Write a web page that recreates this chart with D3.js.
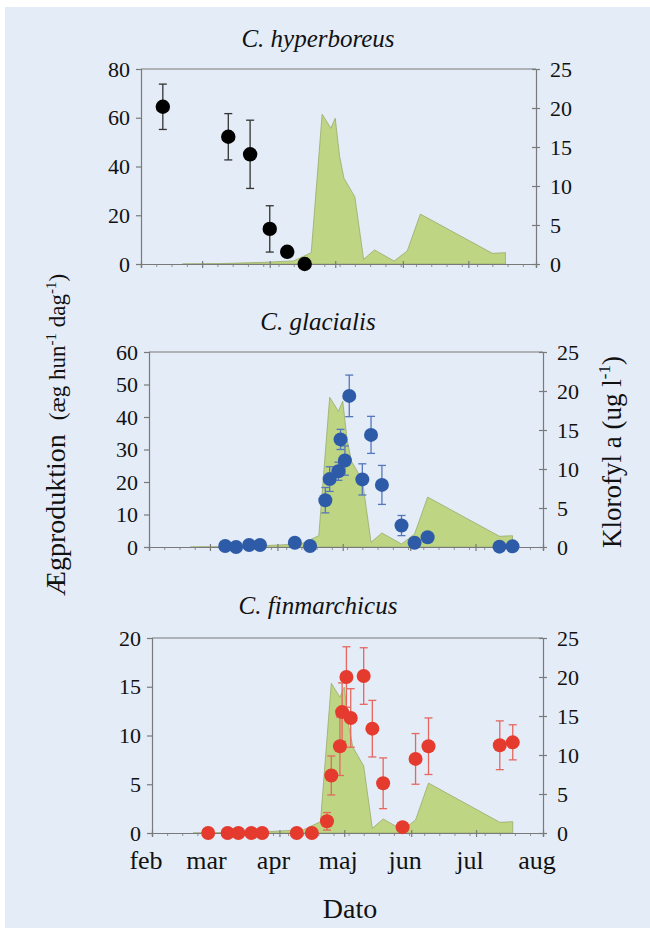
<!DOCTYPE html>
<html>
<head>
<meta charset="utf-8">
<script src="https://cdn.jsdelivr.net/npm/d3@7"></script>
<style>
  body { margin: 0; background: #fff; }
  text { font-family: "Liberation Serif", "Times New Roman", serif; fill: #111; }
</style>
</head>
<body>
<div id="chart"></div>
<script>
// month labels for the date axis
const monthLabels = ['feb', 'mar', 'apr', 'maj', 'jun', 'jul', 'aug'];

// chlorophyll a (ug l-1), same curve behind all three panels
const chlDates = ['2009-02-20', '2009-03-09', '2009-03-28', '2009-04-12', '2009-04-20', '2009-04-25',
    '2009-04-29', '2009-05-01', '2009-05-03', '2009-05-05', '2009-05-10', '2009-05-14', '2009-05-19',
    '2009-05-28', '2009-06-03', '2009-06-09', '2009-07-12', '2009-07-18'];
const chlValues = [0, 0.05, 0.2, 0.4, 1.45, 19.2, 17.4, 18.7, 13.8, 11.0, 8.6, 0.6, 1.8, 0.38, 1.67, 6.4, 1.37, 1.45];

// C. hyperboreus egg production
const hypDates = ['2009-02-11', '2009-03-13', '2009-03-23', '2009-04-01', '2009-04-09', '2009-04-17'];
const hypEggs = [64.5, 52.2, 45, 14.4, 5.0, 0];
const hypErr = [9.3, 9.5, 14, 9.5, 0, 0];

// C. glacialis egg production
const glaDates = ['2009-03-08', '2009-03-13', '2009-03-19', '2009-03-24', '2009-04-09', '2009-04-16',
    '2009-04-23', '2009-04-25', '2009-04-29', '2009-04-30', '2009-05-02', '2009-05-04', '2009-05-10',
    '2009-05-14', '2009-05-19', '2009-05-28', '2009-06-03', '2009-06-09', '2009-07-12', '2009-07-18'];
const glaEggs = [0.3, 0, 0.6, 0.6, 1.3, 0.3, 14.4, 20.9, 23.3, 33.1, 26.6, 46.5, 20.8, 34.5, 19.1, 6.6, 1.3, 3.0, 0.1, 0.2];
const glaErr = [0, 0, 0, 0, 0, 0, 3.9, 3.8, 2.8, 3.1, 4.5, 6.4, 4.8, 5.7, 6.0, 3.1, 0, 0, 0, 0];

// C. finmarchicus egg production
const finDates = ['2009-02-27', '2009-03-08', '2009-03-13', '2009-03-19', '2009-03-24', '2009-04-09', '2009-04-16',
    '2009-04-23', '2009-04-25', '2009-04-29', '2009-04-30', '2009-05-02', '2009-05-04', '2009-05-10',
    '2009-05-14', '2009-05-19', '2009-05-28', '2009-06-03', '2009-06-09', '2009-07-12', '2009-07-18'];
const finEggs = [0, 0, 0, 0, 0, 0, 0, 1.2, 5.9, 8.9, 12.4, 16.0, 11.8, 16.1, 10.7, 5.1, 0.6, 7.6, 8.9, 9.0, 9.3];
const finErr = [0, 0, 0, 0, 0, 0, 0, 0.9, 2.0, 3.0, 3.0, 3.1, 3.0, 2.9, 2.9, 2.6, 0, 2.6, 2.9, 2.5, 1.8];

const parseDate = d3.timeParse('%Y-%m-%d');
const startDate = parseDate('2009-02-01'),
    endDate = parseDate('2009-08-01');

const width = 650,
    height = 928;
const serif = '"Liberation Serif", "Times New Roman", serif';

const svg = d3.select('#chart').append('svg')
    .attr('width', width)
    .attr('height', height)
    .attr('font-family', serif);

// light blue box
svg.append('rect')
    .attr('x', 5)
    .attr('y', 7)
    .attr('width', width - 5)
    .attr('height', height - 7)
    .attr('fill', '#e4ecf7');

const panels = [
    {title: 'C. hyperboreus', dates: hypDates, eggs: hypEggs, errs: hypErr, yMax: 80, yStep: 20,
        color: '#000', errColor: '#333', r: 7.2, left: 141, right: 536, top: 69, bottom: 264, titleY: 47},
    {title: 'C. glacialis', dates: glaDates, eggs: glaEggs, errs: glaErr, yMax: 60, yStep: 10,
        color: '#2e5ba8', errColor: '#5577bb', r: 7, left: 149, right: 543, top: 352, bottom: 547, titleY: 330},
    {title: 'C. finmarchicus', dates: finDates, eggs: finEggs, errs: finErr, yMax: 20, yStep: 5,
        color: '#e53b2e', errColor: '#e5675f', r: 7, left: 152, right: 543, top: 638, bottom: 833, titleY: 614,
        months: true}
];

function styleAxis(g) {
    g.attr('font-family', serif);
    g.selectAll('path, line').attr('stroke', '#7a7a7a').attr('stroke-width', 1.2);
    g.selectAll('text').attr('font-size', '22px').attr('fill', '#111');
}

function drawPanel(p) {
    const x = d3.scaleTime().domain([startDate, endDate]).range([p.left, p.right]);
    const yEgg = d3.scaleLinear().domain([0, p.yMax]).range([p.bottom, p.top]);
    const yChl = d3.scaleLinear().domain([0, 25]).range([p.bottom, p.top]);

    // chlorophyll area
    const chl = chlDates.map((d, i) => ({date: parseDate(d), v: chlValues[i]}));
    svg.append('path')
        .datum(chl)
        .attr('fill', '#bed583')
        .attr('stroke', '#9aab6c')
        .attr('stroke-width', 0.8)
        .attr('d', d3.area()
            .x(d => x(d.date))
            .y0(yChl(0))
            .y1(d => yChl(d.v)));

    // top border
    svg.append('line')
        .attr('x1', p.left).attr('x2', p.right)
        .attr('y1', p.top).attr('y2', p.top)
        .attr('stroke', '#7a7a7a').attr('stroke-width', 1.2);

    // left axis
    svg.append('g')
        .attr('transform', 'translate(' + p.left + ',0)')
        .call(d3.axisLeft(yEgg)
            .tickValues(d3.range(0, p.yMax + 1, p.yStep))
            .tickSizeOuter(0)
            .tickSize(5)
            .tickPadding(6))
        .call(styleAxis);

    // right axis
    const right = svg.append('g')
        .attr('transform', 'translate(' + p.right + ',0)')
        .call(d3.axisRight(yChl)
            .tickValues([0, 5, 10, 15, 20, 25])
            .tickSizeOuter(0)
            .tickSize(4)
            .tickPadding(10))
        .call(styleAxis);
    right.selectAll('.tick line').attr('x1', -4);

    // minor weekly ticks
    svg.append('g')
        .attr('transform', 'translate(0,' + p.bottom + ')')
        .call(d3.axisBottom(x)
            .tickValues(d3.timeDay.range(startDate, endDate, 7))
            .tickSizeOuter(0)
            .tickSize(3)
            .tickFormat(''))
        .call(styleAxis)
        .selectAll('line').attr('stroke-width', 0.8);

    // month axis
    const bottom = svg.append('g')
        .attr('transform', 'translate(0,' + p.bottom + ')')
        .call(d3.axisBottom(x)
            .tickValues(d3.timeMonth.range(startDate, d3.timeDay.offset(endDate, 1)))
            .tickSizeOuter(0)
            .tickSize(4)
            .tickPadding(14)
            .tickFormat((d, i) => p.months ? monthLabels[i] : ''))
        .call(styleAxis);
    bottom.selectAll('.tick line').attr('y1', -3);
    bottom.selectAll('text').attr('font-size', '26px').attr('dx', '-0.25em');

    // title
    svg.append('text')
        .attr('x', 318)
        .attr('y', p.titleY)
        .attr('text-anchor', 'middle')
        .attr('font-size', '25px')
        .attr('font-style', 'italic')
        .text(p.title);

    const pts = p.dates.map((d, i) => ({date: parseDate(d), v: p.eggs[i], e: p.errs[i]}));
    const withErr = pts.filter(d => d.e > 0);

    // error bars
    const bars = svg.append('g')
        .attr('stroke', p.errColor)
        .attr('stroke-width', 1.3);
    bars.selectAll('.stem')
        .data(withErr)
        .enter()
        .append('line')
        .attr('x1', d => x(d.date)).attr('x2', d => x(d.date))
        .attr('y1', d => yEgg(d.v - d.e)).attr('y2', d => yEgg(d.v + d.e));
    bars.selectAll('.capTop')
        .data(withErr)
        .enter()
        .append('line')
        .attr('x1', d => x(d.date) - 4).attr('x2', d => x(d.date) + 4)
        .attr('y1', d => yEgg(d.v + d.e)).attr('y2', d => yEgg(d.v + d.e));
    bars.selectAll('.capBottom')
        .data(withErr)
        .enter()
        .append('line')
        .attr('x1', d => x(d.date) - 4).attr('x2', d => x(d.date) + 4)
        .attr('y1', d => yEgg(d.v - d.e)).attr('y2', d => yEgg(d.v - d.e));

    // points
    svg.append('g')
        .selectAll('circle')
        .data(pts)
        .enter()
        .append('circle')
        .attr('cx', d => x(d.date))
        .attr('cy', d => yEgg(d.v))
        .attr('r', p.r)
        .attr('fill', p.color);
}

panels.forEach(drawPanel);

// left axis title
const yTitle = svg.append('text')
    .attr('transform', 'translate(65,596) rotate(-90)')
    .attr('font-size', '28px');
yTitle.append('tspan').text('Ægproduktion');
yTitle.append('tspan').attr('font-size', '23px').attr('dx', 14).text('(æg hun');
yTitle.append('tspan').attr('font-size', '15px').attr('dy', -9).text('-1');
yTitle.append('tspan').attr('font-size', '23px').attr('dy', 9).text(' dag');
yTitle.append('tspan').attr('font-size', '15px').attr('dy', -9).text('-1');
yTitle.append('tspan').attr('font-size', '23px').attr('dy', 9).text(')');

// right axis title
const chlTitle = svg.append('text')
    .attr('transform', 'translate(621,548) rotate(-90)')
    .attr('font-size', '27px');
chlTitle.append('tspan').text('Klorofyl a (ug l');
chlTitle.append('tspan').attr('font-size', '17px').attr('dy', -11).text('-1');
chlTitle.append('tspan').attr('dy', 11).text(')');

// x axis title
svg.append('text')
    .attr('x', 350)
    .attr('y', 918)
    .attr('text-anchor', 'middle')
    .attr('font-size', '28px')
    .text('Dato');
</script>
</body>
</html>
